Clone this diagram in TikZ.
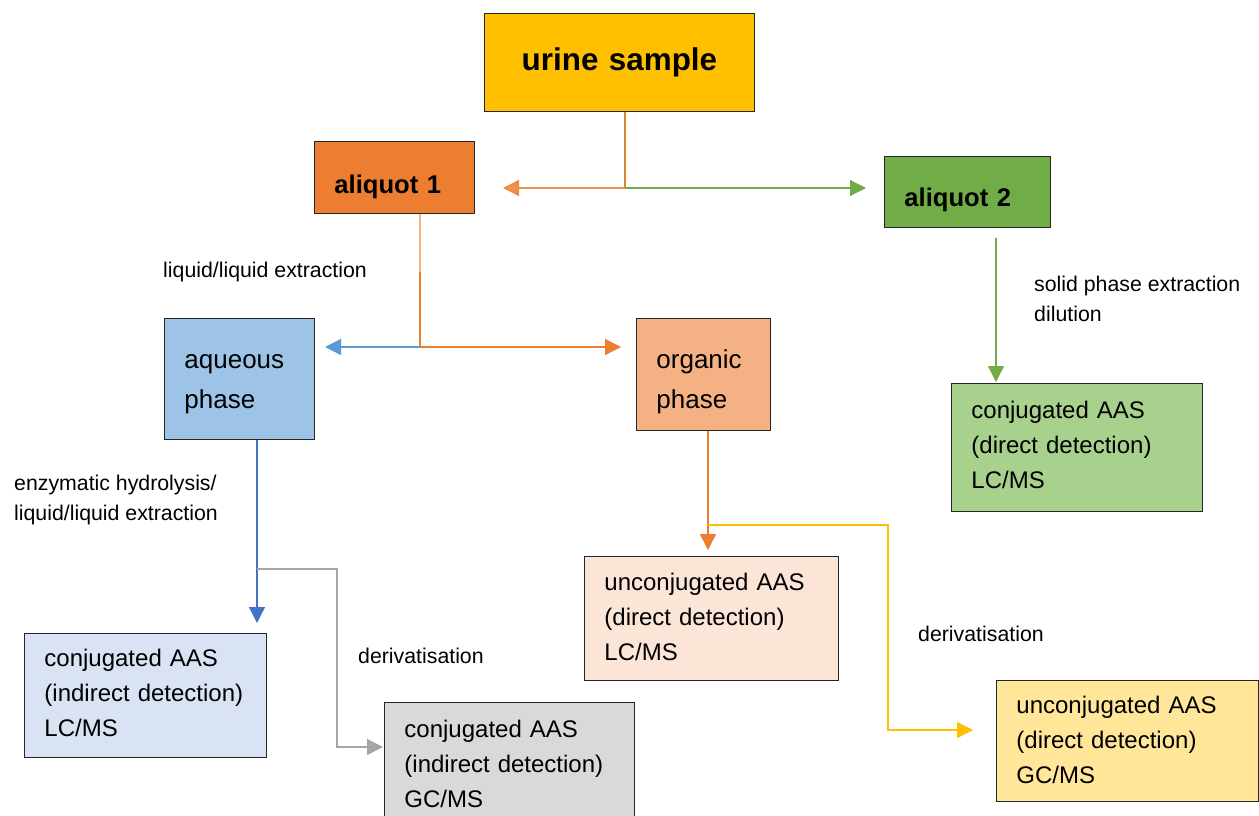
\documentclass[tikz,border=0pt]{standalone}
\usepackage{fontspec}
\setmainfont{Liberation Sans}
\usetikzlibrary{arrows.meta}
\definecolor{cUrine}{HTML}{FFC000}
\definecolor{cAone}{HTML}{ED7D31}
\definecolor{cAtwo}{HTML}{70AD47}
\definecolor{cAq}{HTML}{9DC3E6}
\definecolor{cOrg}{HTML}{F4B183}
\definecolor{cGreenBox}{HTML}{A9D18E}
\definecolor{cPeach}{HTML}{FBE5D6}
\definecolor{cLBlue}{HTML}{DAE3F3}
\definecolor{cGrey}{HTML}{D9D9D9}
\definecolor{cYellow}{HTML}{FFE699}
\definecolor{lOrange}{HTML}{ED7D31}
\definecolor{lLightOrange}{HTML}{F4B183}
\definecolor{lGreen}{HTML}{70AD47}
\definecolor{lBlue}{HTML}{5B9BD5}
\definecolor{lBlueDark}{HTML}{4472C4}
\definecolor{lGrey}{HTML}{A5A5A5}
\definecolor{lYellow}{HTML}{FFC000}
\newcommand{\dn}[2]{\raisebox{-#1}[\height][\depth]{#2}}
\tikzset{
  boxbase/.style={draw=black!85, line width=0.9pt, anchor=north west, inner xsep=20pt, inner ysep=0pt, align=left},
  resbox/.style={boxbase, font=\fontsize{24}{35}\selectfont},
  phasebox/.style={boxbase, font=\fontsize{26}{40}\selectfont},
  alibox/.style={boxbase, font=\fontsize{25.6}{30}\selectfont\bfseries},
  lbl/.style={anchor=west, inner sep=0pt, font=\fontsize{21.3}{30.5}\selectfont, align=left},
  conn/.style={line width=1.3pt, -{Triangle[length=16pt,width=16pt]}},
  plain/.style={line width=1.3pt}
}
\begin{document}
\begin{tikzpicture}[x=1pt,y=-1pt]
\useasboundingbox (0,0) rectangle (1259,816);
% boxes
\node[boxbase, fill=cUrine, minimum width=270pt, minimum height=98pt, text width=230pt, align=center,
      font=\fontsize{31.4}{36}\selectfont\bfseries] (urine) at (484,13) {urine sample};
\node[alibox, fill=cAone, minimum width=160pt, minimum height=72pt, text width=120pt] (a1) at (314,141) {\dn{9pt}{aliquot~1}};
\node[alibox, fill=cAtwo, minimum width=166pt, minimum height=71pt, text width=126pt] (a2) at (884,156) {\dn{8pt}{aliquot~2}};
\node[phasebox, fill=cAq, minimum width=150pt, minimum height=121pt, text width=110pt] (aq) at (164,318) {\dn{5pt}{aqueous}\\\dn{5pt}{phase}};
\node[phasebox, fill=cOrg, minimum width=134pt, minimum height=112pt, text width=94pt] (org) at (636,318) {\dn{7pt}{organic}\\\dn{7pt}{phase}};
\node[resbox, fill=cGreenBox, minimum width=251pt, minimum height=128pt, text width=211pt] (cgLC) at (951,383) {\dn{-3pt}{conjugated~AAS}\\\dn{-3pt}{(direct~detection)}\\\dn{-3pt}{LC/MS}};
\node[resbox, fill=cPeach, minimum width=254pt, minimum height=124pt, text width=214pt] (ucLC) at (584,556) {\dn{-2pt}{unconjugated~AAS}\\\dn{-2pt}{(direct~detection)}\\\dn{-2pt}{LC/MS}};
\node[resbox, fill=cLBlue, minimum width=242pt, minimum height=124pt, text width=202pt] (ciLC) at (24,633) {\dn{-3pt}{conjugated~AAS}\\\dn{-3pt}{(indirect~detection)}\\\dn{-3pt}{LC/MS}};
\node[resbox, fill=cGrey, minimum width=250pt, minimum height=128pt, text width=210pt] (ciGC) at (384,702) {\dn{-3pt}{conjugated~AAS}\\\dn{-3pt}{(indirect~detection)}\\\dn{-3pt}{GC/MS}};
\node[resbox, fill=cYellow, minimum width=262pt, minimum height=121pt, text width=222pt] (ucGC) at (996,680) {\dn{-1pt}{unconjugated~AAS}\\\dn{-1pt}{(direct~detection)}\\\dn{-1pt}{GC/MS}};
% labels
\node[lbl] (l1) at (163,272) {liquid/liquid extraction};
\node[lbl] (l2) at (1034,299) {solid phase extraction\\dilution};
\node[lbl] (l3) at (14,500) {enzymatic hydrolysis/\\liquid/liquid extraction};
\node[lbl] (l4) at (358,656) {derivatisation};
\node[lbl] (l5) at (918,634) {derivatisation};
% coordinates
\coordinate (j1) at (625,188);
\coordinate (t1l) at (503,188);
\coordinate (t1r) at (866,188);
\coordinate (j2) at (420,347);
\coordinate (k2) at (420,272);
\coordinate (t2l) at (325,347);
\coordinate (t2r) at (621,347);
\coordinate (j3) at (257,569);
\coordinate (t3) at (257,623);
\coordinate (g3) at (337,747);
\coordinate (t3g) at (383,747);
\coordinate (j4) at (708,525);
\coordinate (t4) at (708,550);
\coordinate (y3) at (888,730);
\coordinate (t4y) at (973,730);
\coordinate (s5) at (996,238);
\coordinate (t5) at (996,382);
% connectors
\draw[conn, lGreen] (urine.south -| j1) -- (j1) -- (t1r);
\draw[conn, lOrange, opacity=0.85] (urine.south -| j1) -- (j1) -- (t1l);
\draw[plain, lLightOrange] (a1.south -| j2) -- (k2);
\draw[conn, lOrange] (k2) -- (j2) -- (t2r);
\draw[conn, lBlue] (j2) -- (t2l);
\draw[conn, lBlueDark] (aq.south -| j3) -- (t3);
\draw[conn, lGrey] (j3) -| (g3) -- (t3g);
\draw[conn, lOrange] (org.south -| j4) -- (t4);
\draw[conn, lYellow] (j4) -| (y3) -- (t4y);
\draw[conn, lGreen] (s5) -- (t5);
\end{tikzpicture}
\end{document}
